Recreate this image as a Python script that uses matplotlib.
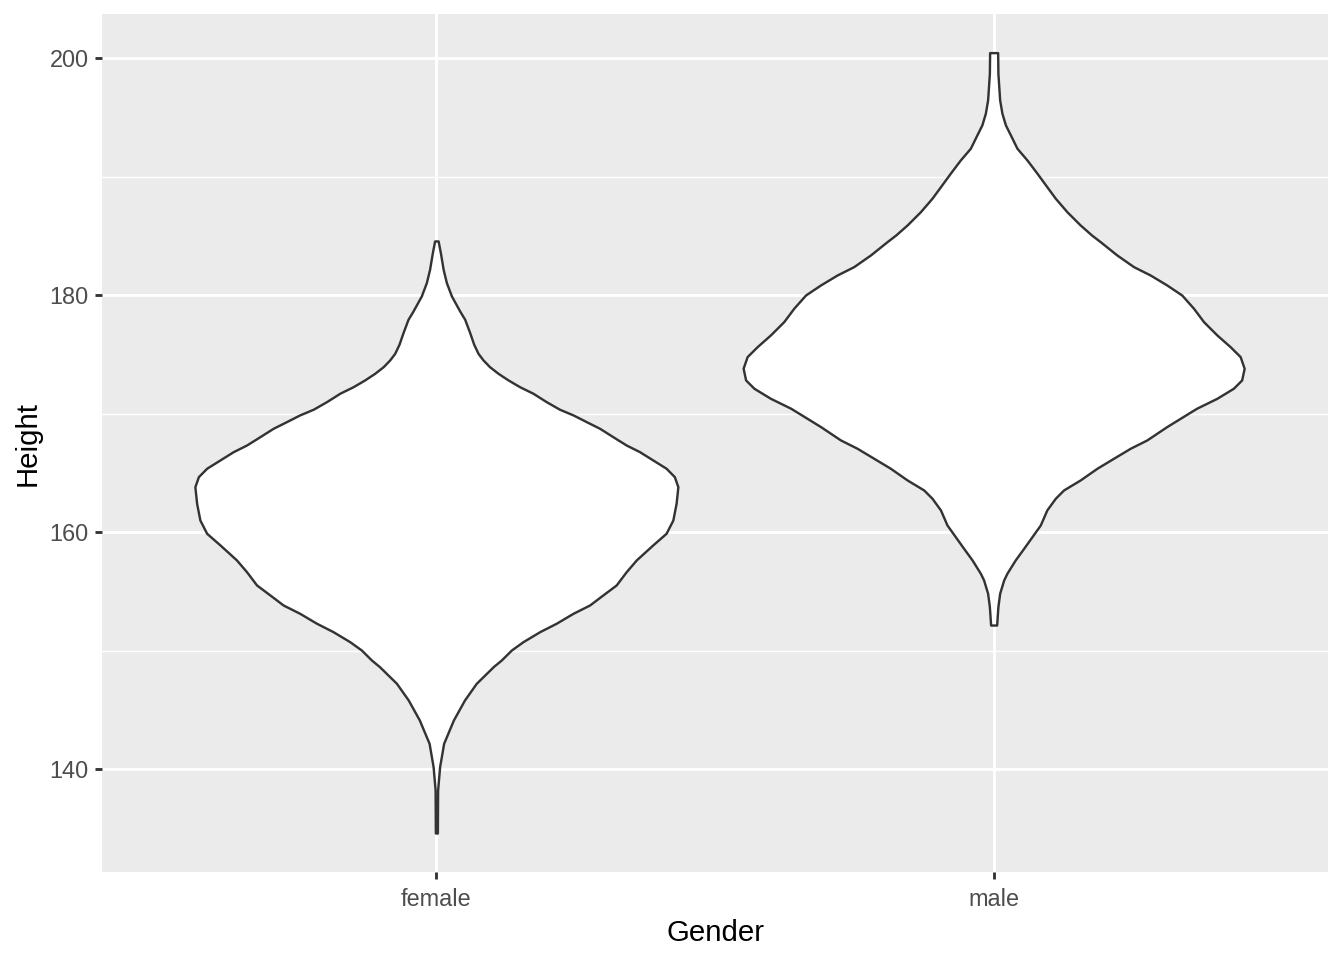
import matplotlib
matplotlib.use("Agg")
import matplotlib.pyplot as plt
import numpy as np

categories = ["female", "male"]

# Violin outlines: heights and relative density (half-width)
female_height = [184.60, 183.61, 182.21, 181.08, 179.96, 178.69, 177.99, 176.86, 175.88, 175.12,
                 174.56, 173.99, 173.43, 172.87, 172.30, 171.75, 171.04, 170.40, 169.92, 169.35,
                 168.79, 168.08, 167.38, 166.82, 166.12, 165.42, 164.71, 163.86, 162.46, 161.05,
                 159.93, 158.95, 157.68, 156.69, 155.57, 154.73, 153.88, 153.18, 152.34, 151.63,
                 150.78, 150.08, 149.24, 148.68, 147.27, 145.86, 144.18, 142.21, 140.24, 138.27,
                 134.64]
female_density = [0.007, 0.016, 0.027, 0.040, 0.060, 0.093, 0.113, 0.133, 0.149, 0.166,
                  0.186, 0.212, 0.246, 0.286, 0.332, 0.385, 0.438, 0.491, 0.545, 0.598,
                  0.651, 0.704, 0.757, 0.810, 0.863, 0.916, 0.949, 0.963, 0.956, 0.943,
                  0.916, 0.863, 0.797, 0.757, 0.717, 0.664, 0.611, 0.545, 0.478, 0.412,
                  0.345, 0.299, 0.259, 0.227, 0.159, 0.112, 0.068, 0.029, 0.013, 0.005,
                  0.004]

male_height = [200.49, 198.75, 196.50, 195.38, 194.39, 193.54, 192.42, 191.43, 190.31, 189.18,
               188.20, 187.07, 185.95, 185.11, 184.54, 183.42, 182.43, 181.73, 180.89, 180.04,
               178.92, 177.79, 176.67, 175.68, 174.84, 173.86, 172.87, 172.17, 171.32, 170.48,
               168.93, 167.81, 167.11, 166.26, 165.42, 164.43, 163.59, 162.89, 161.90, 160.63,
               159.65, 158.67, 157.68, 156.56, 155.99, 154.87, 153.74, 152.19]
male_density = [0.016, 0.017, 0.024, 0.033, 0.047, 0.067, 0.093, 0.133, 0.173, 0.212,
                0.246, 0.292, 0.345, 0.390, 0.425, 0.491, 0.558, 0.624, 0.690, 0.750,
                0.797, 0.837, 0.890, 0.943, 0.983, 0.999, 0.989, 0.956, 0.890, 0.809,
                0.690, 0.611, 0.545, 0.478, 0.412, 0.345, 0.279, 0.246, 0.212, 0.186,
                0.153, 0.120, 0.086, 0.053, 0.040, 0.024, 0.017, 0.012]

y_ticks = [140, 160, 180, 200]
y_minor = [150, 170, 190]

plt.rcParams['font.family'] = ['Liberation Sans', 'DejaVu Sans']

fig = plt.figure(figsize=(7, 5), dpi=192)
ax = fig.add_axes([102/1344, 1 - 872/960, (1328-102)/1344, (872-14)/960])
ax.set_facecolor('#EBEBEB')

for y in y_minor:
    ax.axhline(y, color='white', lw=0.55, zorder=0.5)
for y in y_ticks:
    ax.axhline(y, color='white', lw=1.07, zorder=0.6)
for i in range(len(categories)):
    ax.axvline(i + 1, color='white', lw=1.07, zorder=0.6)

series = [(female_height, female_density), (male_height, male_density)]
for i, (h, d) in enumerate(series):
    h = np.array(h)
    d = np.array(d)
    x = i + 1
    ax.fill_betweenx(h, x - 0.45 * d, x + 0.45 * d, facecolor='white',
                     edgecolor='#333333', linewidth=0.9, zorder=2)

ax.set_xlim(0.4, 2.6)
ax.set_ylim(131.35, 203.75)
ax.set_xticks([1, 2])
ax.set_xticklabels(categories)
ax.set_yticks(y_ticks)
for s in ax.spines.values():
    s.set_visible(False)
ax.tick_params(axis='both', colors='#333333', length=2.75, width=1.07,
               labelsize=8.8, labelcolor='#4D4D4D', pad=2.2)
ax.tick_params(axis='x', pad=3.3)
ax.set_xlabel('Gender', fontsize=11, color='black', labelpad=3)
ax.set_ylabel('Height', fontsize=11, color='black', labelpad=3)

fig.savefig('out.png', dpi=192, facecolor='white')
